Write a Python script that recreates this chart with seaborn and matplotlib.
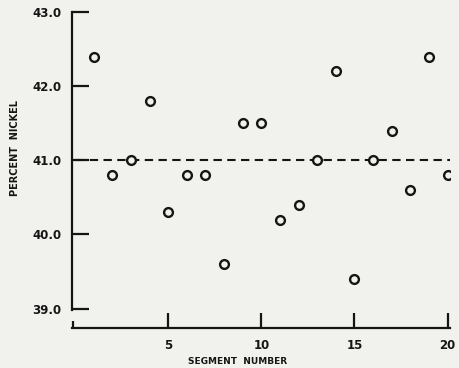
import pandas as pd
import numpy as np
import seaborn as sns
import matplotlib.pyplot as plt

segment = list(range(1, 21))
nickel = [42.4, 40.8, 41.0, 41.8, 40.3, 40.8, 40.8, 39.6, 41.5, 41.5,
          40.2, 40.4, 41.0, 42.2, 39.4, 41.0, 41.4, 40.6, 42.4, 40.8]
mean_line = 41.0
xticks = [5, 10, 15, 20]
yticks = [39.0, 40.0, 41.0, 42.0, 43.0]

df = pd.DataFrame({'Segment': segment, 'Nickel': nickel})

sns.set_style('white')
plt.rcParams['font.family'] = ['DejaVu Sans']
bg = '#f1f1ed'
ink = '#151515'

fig = plt.figure(figsize=(4.6, 3.68), dpi=100, facecolor=bg)
ax = fig.add_axes([0.157, 0.109, 0.821, 0.858], facecolor=bg)

ax.axhline(mean_line, color=ink, lw=1.5, ls=(0, (4, 2.6)), xmin=0.01, zorder=1)
sns.scatterplot(data=df, x='Segment', y='Nickel', ax=ax, marker='o', s=40,
                facecolor=bg, edgecolor=ink, linewidth=1.7, zorder=3)

ax.set_xlim(-0.15, 20.12)
ax.set_ylim(38.74, 43.0)
ax.set_xticks(xticks)
ax.set_xticklabels([str(t) for t in xticks])
ax.set_yticks(yticks)
ax.set_yticklabels([f'{t:.1f}' for t in yticks])
ax.set_xticks([-0.1], minor=True)

for s in ['top', 'right']:
    ax.spines[s].set_visible(False)
for s in ['left', 'bottom']:
    ax.spines[s].set_color(ink)
    ax.spines[s].set_linewidth(1.6)
ax.spines['left'].set_bounds(38.98, 43.0)

ax.tick_params(axis='y', left=True, direction='in', length=12, width=1.6, color=ink,
               pad=8, labelsize=8.5, labelcolor=ink)
ax.tick_params(axis='x', bottom=True, direction='in', length=11, width=1.6, color=ink,
               pad=8, labelsize=8.5, labelcolor=ink)
ax.tick_params(axis='x', which='minor', bottom=True, direction='in', length=5,
               width=1.6, color=ink)
for lbl in ax.get_xticklabels() + ax.get_yticklabels():
    lbl.set_fontweight('bold')

ax.set_xlabel('SEGMENT  NUMBER', fontsize=6.5, fontweight='bold', color=ink)
ax.xaxis.set_label_coords(0.437, -0.092)
ax.set_ylabel('PERCENT  NICKEL', fontsize=7, fontweight='bold', color=ink)
ax.yaxis.set_label_coords(-0.138, 0.57)

fig.savefig('out.png', dpi=100, facecolor=bg)
